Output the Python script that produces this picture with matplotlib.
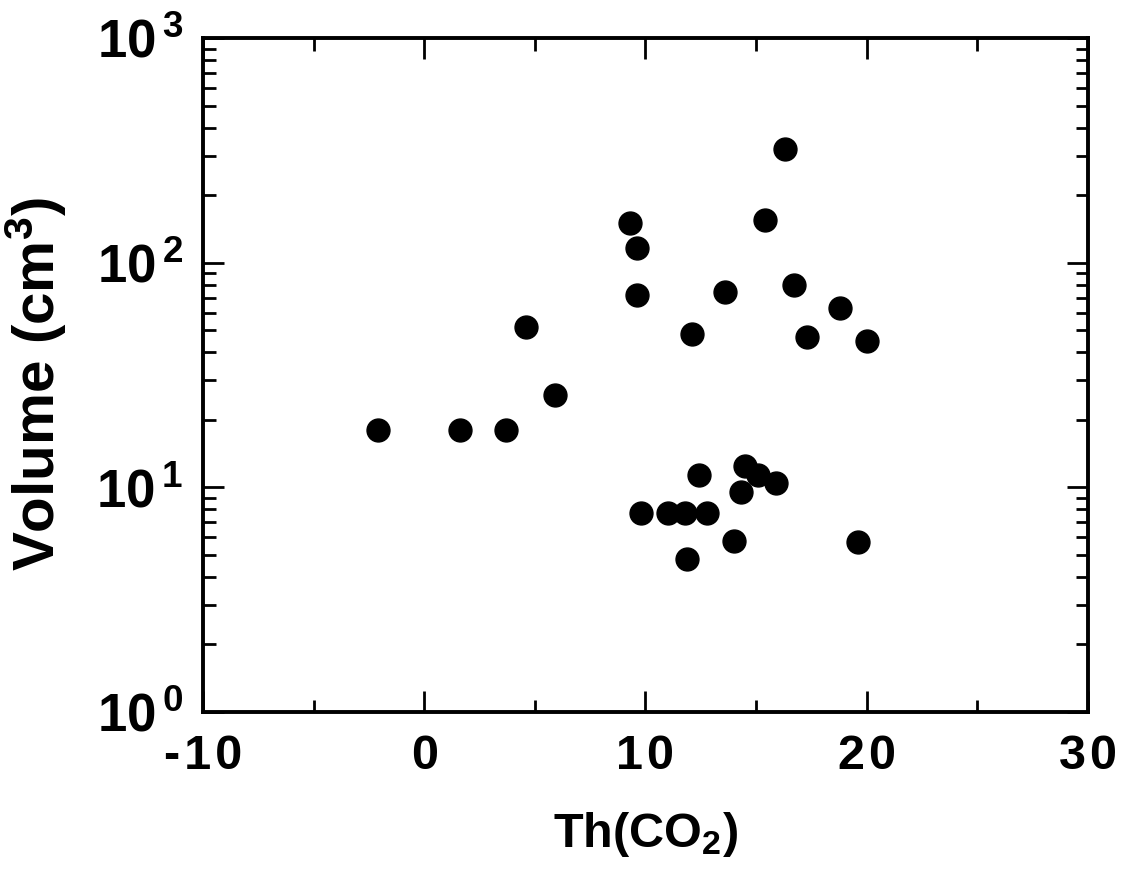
import math
import matplotlib.pyplot as plt
from matplotlib.ticker import MultipleLocator, LogLocator, FuncFormatter, NullFormatter

plt.rcParams['font.family'] = ['Liberation Sans', 'DejaVu Sans']
plt.rcParams['font.weight'] = 'bold'
plt.rcParams['mathtext.fontset'] = 'custom'
plt.rcParams['mathtext.bf'] = 'Liberation Sans:bold'
plt.rcParams['mathtext.rm'] = 'Liberation Sans:bold'
plt.rcParams['mathtext.default'] = 'bf'

# Th(CO2) vs volume
th_co2 = [-2.1, 1.6, 3.7, 4.6, 5.9, 9.3, 9.6, 9.6, 9.8, 11.0, 11.8, 12.8,
          11.9, 12.1, 12.4, 13.6, 14.0, 14.3, 14.5, 15.1, 15.4, 15.9, 16.3,
          16.7, 17.3, 18.8, 19.6, 20.0]
volume = [18.0, 18.0, 18.0, 52.0, 25.8, 150, 117, 72, 7.7, 7.7, 7.7, 7.7,
          4.8, 48, 11.4, 74, 5.8, 9.5, 12.5, 11.4, 155, 10.5, 322,
          80, 47, 63, 5.7, 45]

fig = plt.figure(figsize=(11.25, 8.71), dpi=100)
ax = fig.add_axes([0.1804, 0.1825, 0.7866, 0.7735])

ax.plot(th_co2, volume, 'o', color='black', markersize=16.5, linestyle='none')

ax.set_yscale('log')
ax.set_xlim(-10, 30)
ax.set_ylim(1, 1000)


def xfmt(v, pos):
    # the original spaces its digits out a little
    return '\u200a'.join('%d' % v)


def yfmt(v, pos):
    return r'$10^{\,%d}$' % round(math.log10(v))


ax.xaxis.set_major_locator(MultipleLocator(10))
ax.xaxis.set_minor_locator(MultipleLocator(5))
ax.xaxis.set_major_formatter(FuncFormatter(xfmt))
ax.yaxis.set_major_locator(LogLocator(base=10, numticks=10))
ax.yaxis.set_minor_locator(LogLocator(base=10, subs=range(2, 10), numticks=10))
ax.yaxis.set_minor_formatter(NullFormatter())
ax.yaxis.set_major_formatter(FuncFormatter(yfmt))

ax.tick_params(which='both', direction='in', top=True, right=True, width=2)
ax.tick_params(which='major', length=15)
ax.tick_params(which='minor', length=9)
ax.tick_params(axis='x', labelsize=35, pad=16)
ax.tick_params(axis='y', labelsize=38, pad=14)
for s in ax.spines.values():
    s.set_linewidth(2.8)

ax.set_xlabel(r'Th(CO$_2$)', fontsize=35, fontweight='bold', labelpad=22)
ax.set_ylabel(r'Volume (cm$^3$)', fontsize=42, fontweight='bold')
ax.yaxis.set_label_coords(-0.151, 0.487)

fig.savefig('out.png', dpi=100)
